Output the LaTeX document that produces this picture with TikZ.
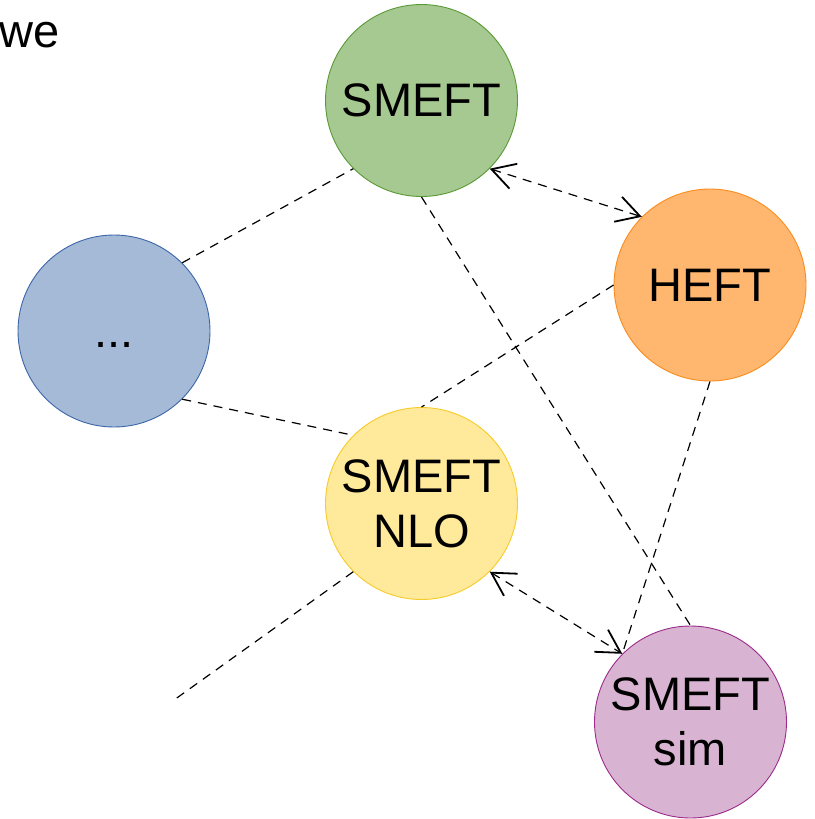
\documentclass[tikz,border=0pt]{standalone}
\usepackage{fontspec}
\setmainfont{Liberation Sans}
\usetikzlibrary{arrows.meta,positioning}
\definecolor{smeftgreen}{HTML}{A6C891}
\definecolor{smeftgreenline}{HTML}{5A9A35}
\definecolor{dotsblue}{HTML}{A5BAD7}
\definecolor{dotsblueline}{HTML}{3C66A8}
\definecolor{heftorange}{HTML}{FFB66E}
\definecolor{heftorangeline}{HTML}{F98C1E}
\definecolor{nloyellow}{HTML}{FFE99A}
\definecolor{nloyellowline}{HTML}{F7CB2A}
\definecolor{simpurple}{HTML}{D9B4D2}
\definecolor{simpurpleline}{HTML}{9B2A8A}
\tikzset{
  theory/.style={circle,minimum size=192pt,inner sep=0pt,line width=.9pt,align=center,font=\fontsize{47}{55}\selectfont},
  greencirc/.style={theory,draw=smeftgreenline,fill=smeftgreen},
  bluecirc/.style={theory,draw=dotsblueline,fill=dotsblue},
  orangecirc/.style={theory,draw=heftorangeline,fill=heftorange},
  yellowcirc/.style={theory,draw=nloyellowline,fill=nloyellow},
  purplecirc/.style={theory,draw=simpurpleline,fill=simpurple},
  link/.style={dash pattern=on 9pt off 7pt,line width=1.2pt},
  twoway/.style={link,{Straight Barb[length=23pt,width=26pt,line width=1.8pt]}-{Straight Barb[length=23pt,width=26pt,line width=1.8pt]}},
}
\begin{document}
\begin{tikzpicture}[on grid]
      \useasboundingbox (0,0) rectangle (814pt,-819pt);
      \node[anchor=base west,inner sep=0pt,font=\fontsize{47}{55}\selectfont] (we) at (-1pt,-47pt) {we};
      \node[greencirc] (smeft) at (421.5pt,-100.5pt) {SMEFT};
      \node[orangecirc,below right=184.5pt and 288.5pt of smeft] (heft) {HEFT};
      \node[bluecirc,below left=230.5pt and 307.5pt of smeft] (dots) {\vphantom{T}...};
      \node[yellowcirc,below=403pt of smeft] (nlo) {SMEFT\\NLO};
      \node[purplecirc,below right=218.5pt and 269pt of nlo] (sim) {SMEFT\\sim};
      \coordinate (tail) at (174pt,-700pt);
      \draw[link] (dots.45)--(smeft.-135);
      \draw[link] (dots.-45)--(nlo.135);
      \draw[link] (smeft.south)--(sim.north);
      \draw[link] (heft.west)--(nlo.north);
      \draw[link] (heft.south)--(sim.135);
      \draw[twoway] (smeft.-45)--(heft.135);
      \draw[twoway] (nlo.-45)--(sim.135);
      \draw[link] (nlo.-135)--(tail);
    \end{tikzpicture}
\end{document}
